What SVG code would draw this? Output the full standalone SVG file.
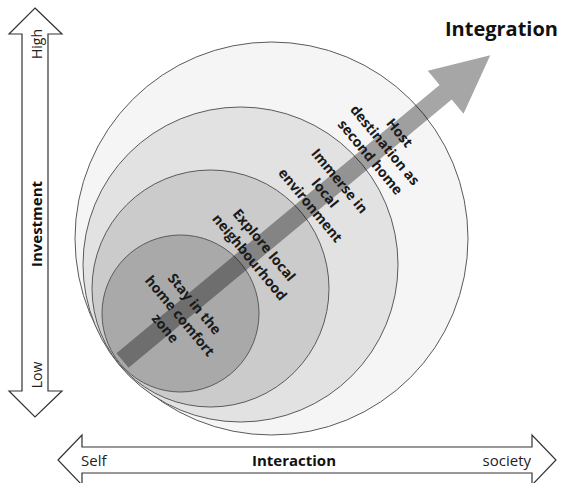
<svg xmlns="http://www.w3.org/2000/svg" width="563" height="483" viewBox="0 0 563 483">
<style>
.ring{stroke:#5a5a5a;stroke-width:1}
.lbl{font-family:"Open Sans","Liberation Sans",sans-serif;font-weight:bold;font-size:14px;fill:#1a1a1a;text-anchor:middle}
.ax{fill:#fff;stroke:#333;stroke-width:1.2}
.axt{font-family:"Open Sans","Liberation Sans",sans-serif;font-size:14px;fill:#222}
.axb{font-family:"Open Sans","Liberation Sans",sans-serif;font-size:15px;font-weight:bold;fill:#111}
</style>
<rect width="563" height="483" fill="#fff"/>
<g id="ring-society">
<circle class="ring" cx="271.5" cy="238.5" r="196.5" fill="#f5f5f5" stroke="#777"/>
</g>
<g id="ring-environment">
<circle class="ring" cx="240.5" cy="264.5" r="157.5" fill="#e2e2e2"/>
</g>
<g id="ring-neighbourhood">
<circle class="ring" cx="210.5" cy="288.5" r="118.5" fill="#cbcbcb"/>
</g>
<g id="ring-home">
<circle class="ring" cx="180.5" cy="313.5" r="78.5" fill="#a9a9a9"/>
</g>
<g id="connectors">
<polygon transform="translate(122.5,360.5) rotate(-39.7)" points="0,-9.5 420,-9.5 420,-28 478,0 420,28 420,9.5 0,9.5" fill="#000" fill-opacity="0.35"/>
</g>
<g id="label-home" transform="translate(180,316) rotate(50.3)">
<text class="lbl" x="0" y="-14">Stay in the</text>
<text class="lbl" x="0" y="5">home comfort</text>
<text class="lbl" x="0" y="24">zone</text>
</g>
<g id="label-neighbourhood" transform="translate(257,251) rotate(50.3)">
<text class="lbl" x="0" y="-4.5">Explore local</text>
<text class="lbl" x="0" y="14.5">neighbourhood</text>
</g>
<g id="label-environment" transform="translate(325,193) rotate(50.3)">
<text class="lbl" x="0" y="-14">Immerse in</text>
<text class="lbl" x="0" y="5">local</text>
<text class="lbl" x="0" y="24">environment</text>
</g>
<g id="label-society" transform="translate(385,145) rotate(50.3)">
<text class="lbl" x="0" y="-14">Host</text>
<text class="lbl" x="0" y="5">destination as</text>
<text class="lbl" x="0" y="24">second home</text>
</g>
<g id="integration">
<text x="558" y="36" text-anchor="end" style="font-family:'Open Sans','Liberation Sans',sans-serif;font-weight:bold;font-size:20px;fill:#111">Integration</text>
</g>
<g id="axis-investment">
<polygon class="ax" points="35,8 62,34 48,34 48,391 62,391 35,417 9,391 22,391 22,34 9,34"/>
<text class="axt" transform="translate(42,44) rotate(-90)" text-anchor="middle">High</text>
<text class="axb" transform="translate(42,224) rotate(-90)" text-anchor="middle">Investment</text>
<text class="axt" transform="translate(42,375) rotate(-90)" text-anchor="middle">Low</text>
</g>
<g id="axis-interaction">
<polygon class="ax" points="58,460 82,435 82,447 532,447 532,435 556,460 532,485 532,473 82,473 82,485"/>
<text class="axt" x="81" y="466" style="font-size:15px">Self</text>
<text class="axb" x="294" y="466" text-anchor="middle">Interaction</text>
<text class="axt" x="531" y="466" text-anchor="end" style="font-size:15px">society</text>
</g>
</svg>
